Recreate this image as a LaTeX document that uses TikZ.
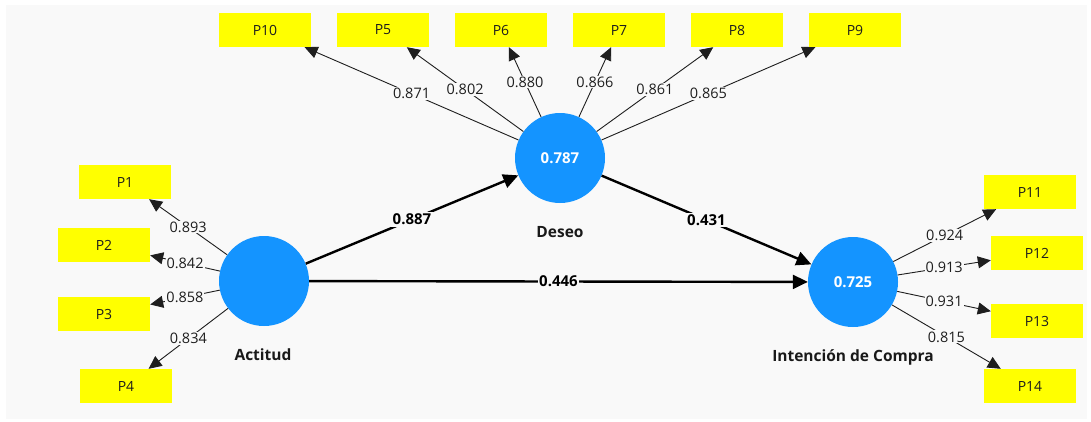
\documentclass[tikz,border=0pt]{standalone}
\usepackage{fontspec}
\setmainfont{Open Sans}
\usetikzlibrary{arrows.meta}
\definecolor{canvas}{RGB}{249,249,249}
\definecolor{lvblue}{RGB}{20,148,255}
\definecolor{itemyellow}{RGB}{255,255,0}
\definecolor{inkgray}{RGB}{30,30,30}

\begin{document}
\begin{tikzpicture}[x=1pt,y=-1pt,
  item/.style={fill=itemyellow, minimum width=92pt, minimum height=34pt, inner sep=0pt,
               text=inkgray, font=\fontsize{14}{16}\selectfont},
  latent/.style={circle, fill=lvblue, minimum size=90pt, inner sep=0pt, text=white,
                 font=\bfseries\fontsize{15}{17}\selectfont},
  loading/.style={draw=inkgray, line width=0.9pt, -{Triangle[length=13pt,width=12pt]}},
  structural/.style={draw=black, line width=2.4pt, -{Triangle[length=15pt,width=14pt]}},
  lval/.style={fill=canvas, inner sep=1pt, text=inkgray, font=\fontsize{14.5}{16}\selectfont},
  pval/.style={fill=canvas, inner sep=1.5pt, font=\bfseries\fontsize{15}{17}\selectfont},
  lvname/.style={text=black!90, font=\bfseries\fontsize{15.5}{17}\selectfont}]

% canvas
\fill[white] (0,0) rectangle (1091,421);
\fill[canvas] (6,5) rectangle (1087,419);
\useasboundingbox (0,0) rectangle (1091,421);

% latent variables
\node[latent] (act) at (264,281) {};
\node[latent] (des) at (560,158) {0.787};
\node[latent] (int) at (853,282) {0.725};
\node[lvname] (actname) at (263,355) {Actitud};
\node[lvname] (desname) at (560,232) {Deseo};
\node[lvname] (intname) at (853,357) {Intención de Compra};

% indicators
\node[item] (p10) at (265,30) {P10};
\node[item] (p5)  at (383,30) {P5};
\node[item] (p6)  at (501,30) {P6};
\node[item] (p7)  at (619,30) {P7};
\node[item] (p8)  at (737,30) {P8};
\node[item] (p9)  at (855,30) {P9};

\node[item] (p1) at (125,182) {P1};
\node[item] (p2) at (104,245) {P2};
\node[item] (p3) at (104,314) {P3};
\node[item] (p4) at (126,386) {P4};

\node[item] (p11) at (1030,192) {P11};
\node[item] (p12) at (1037,253) {P12};
\node[item] (p13) at (1037,321) {P13};
\node[item] (p14) at (1030,386) {P14};

% outer loadings
\draw[loading] (des) -- node[lval] (l10) {0.871} (p10);
\draw[loading] (des) -- node[lval] (l5)  {0.802} (p5);
\draw[loading] (des) -- node[lval] (l6)  {0.880} (p6);
\draw[loading] (des) -- node[lval] (l7)  {0.866} (p7);
\draw[loading] (des) -- node[lval] (l8)  {0.861} (p8);
\draw[loading] (des) -- node[lval] (l9)  {0.865} (p9);

\draw[loading] (act) -- node[lval] (l1) {0.893} (p1);
\draw[loading] (act) -- node[lval] (l2) {0.842} (p2);
\draw[loading] (act) -- node[lval] (l3) {0.858} (p3);
\draw[loading] (act) -- node[lval] (l4) {0.834} (p4);

\draw[loading] (int) -- node[lval] (l11) {0.924} (p11);
\draw[loading] (int) -- node[lval] (l12) {0.913} (p12);
\draw[loading] (int) -- node[lval] (l13) {0.931} (p13);
\draw[loading] (int) -- node[lval] (l14) {0.815} (p14);

% path coefficients
\draw[structural] (act) -- node[pval] (b1) {0.887} (des);
\draw[structural] (des) -- node[pval] (b2) {0.431} (int);
\draw[structural] (act) -- node[pval] (b3) {0.446} (int);

\end{tikzpicture}
\end{document}
